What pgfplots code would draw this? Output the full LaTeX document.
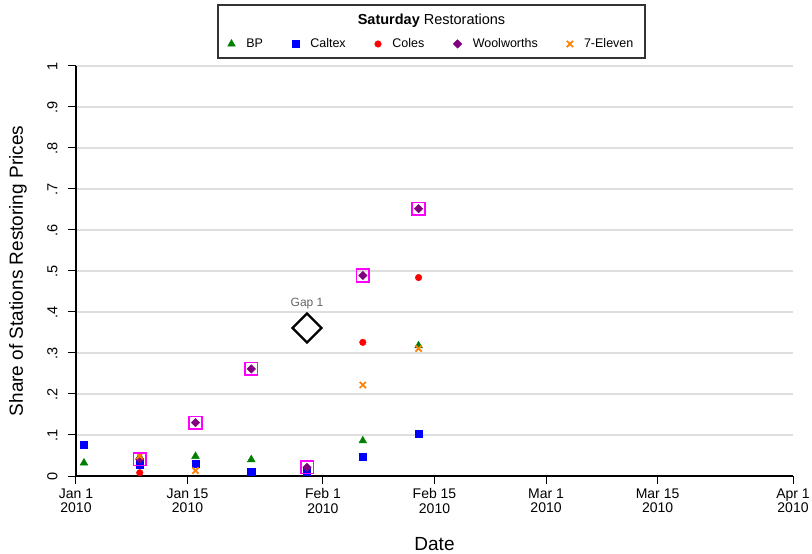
\documentclass[border=0pt]{standalone}
\usepackage{fontspec}
\setmainfont{Liberation Sans}
\usepackage{pgfplots}
\pgfplotsset{compat=1.18}

\definecolor{bpgreen}{RGB}{0,128,0}
\definecolor{caltexblue}{RGB}{0,0,255}
\definecolor{colesred}{RGB}{255,0,0}
\definecolor{woolpurple}{RGB}{128,0,128}
\definecolor{sevenorange}{RGB}{255,128,0}
\definecolor{boxmagenta}{RGB}{255,0,255}
\definecolor{gridgray}{RGB}{222,222,222}
\definecolor{notegray}{RGB}{100,100,100}

% Saturday restoration shares (x = days since 1 Jan 2010)
\pgfplotstableread{
x y
1  0.032
8  0.047
15 0.048
22 0.040
36 0.086
43 0.318
}\bpdata
\pgfplotstableread{
x y
1  0.076
8  0.029
15 0.030
22 0.010
29 0.010
36 0.047
43 0.103
}\caltexdata
\pgfplotstableread{
x y
8  0.008
36 0.326
43 0.484
}\colesdata
\pgfplotstableread{
x y
8  0.041
15 0.130
22 0.261
29 0.021
36 0.489
43 0.652
}\wooldata
\pgfplotstableread{
x y
8  0.049
15 0.013
36 0.222
43 0.311
}\sevendata

\begin{document}
\begin{tikzpicture}
\begin{axis}[
  name=ax,
  scale only axis,
  width=717pt, height=410pt,
  xmin=0, xmax=90, ymin=0, ymax=1,
  axis lines*=left,
  axis line style={line width=1.2pt, black},
  xtick={0,14,31,45,59,73,90},
  xticklabels={Jan 1\\2010, Jan 15\\2010, Feb 1\\2010, Feb 15\\2010, Mar 1\\2010, Mar 15\\2010, Apr 1\\2010},
  x tick label style={align=center, font=\fontsize{14}{14.5}\selectfont, yshift=-1pt},
  ytick={0,0.1,0.2,0.3,0.4,0.5,0.6,0.7,0.8,0.9,1},
  yticklabels={0,.1,.2,.3,.4,.5,.6,.7,.8,.9,1},
  y tick label style={rotate=90, anchor=south, font=\fontsize{14.5}{15}\selectfont},
  yticklabel shift=7pt,
  tick align=outside,
  major tick length=8pt,
  tick style={line width=1pt, black},
  ymajorgrids,
  grid style={line width=1.5pt, gridgray},
  xlabel={Date},
  ylabel={Share of Stations Restoring Prices},
  xlabel style={at={(axis description cs:0.5,0)}, anchor=center, yshift=-68pt, font=\fontsize{19}{20}\selectfont},
  ylabel style={at={(axis description cs:-0.0809,0.5)}, anchor=center, font=\fontsize{19}{20}\selectfont},
  clip=false,
  legend columns=5,
  legend style={draw=none, fill=none,
    at={(axis description cs:0.4958,1.0537)}, anchor=center,
    font=\fontsize{12.5}{13}\selectfont,
    /tikz/every odd column/.append style={column sep=9pt},
    /tikz/every even column/.append style={column sep=27pt}},
]
\addplot[only marks, mark=triangle*, mark size=4.5pt, color=bpgreen] table {\bpdata};
\addlegendentry{BP}
\addplot[only marks, mark=square*, mark size=3.6pt, color=caltexblue] table {\caltexdata};
\addlegendentry{Caltex}
\addplot[only marks, mark=*, mark size=3.3pt, color=colesred] table {\colesdata};
\addlegendentry{Coles}
\addplot[only marks, mark=square*, mark size=3pt, mark options={rotate=45}, color=woolpurple] table {\wooldata};
\addlegendentry{Woolworths}
\addplot[only marks, mark=x, mark size=4.4pt, mark options={line width=1.7pt}, color=sevenorange] table {\sevendata};
\addlegendentry{7-Eleven}
% highlight boxes round the Woolworths points
\addplot[forget plot, only marks, mark=square, mark size=6.3pt, mark options={line width=1.6pt, draw=boxmagenta, fill=none}] table {\wooldata};
% first gap marker
\addplot[forget plot, only marks, mark=square, mark size=10.25pt, mark options={rotate=45, line width=2.2pt, draw=black, fill=none}] coordinates {(29,0.361)};
\node[text=notegray, font=\fontsize{12}{12}\selectfont] at (axis cs:29,0.361) [yshift=24pt] {Gap 1};
\end{axis}
% legend frame and title
\draw[line width=1.2pt, black!80] ([shift={(142pt,8pt)}]ax.north west) rectangle ([shift={(569pt,61pt)}]ax.north west);
\node[font=\fontsize{14.5}{15}\selectfont, anchor=center] at ([shift={(355.5pt,45pt)}]ax.north west) {\textbf{Saturday} Restorations};
\pgfresetboundingbox
\path ([shift={(-76pt,-77pt)}]ax.south west) rectangle ([shift={(19pt,66pt)}]ax.north east);
\end{tikzpicture}
\end{document}
